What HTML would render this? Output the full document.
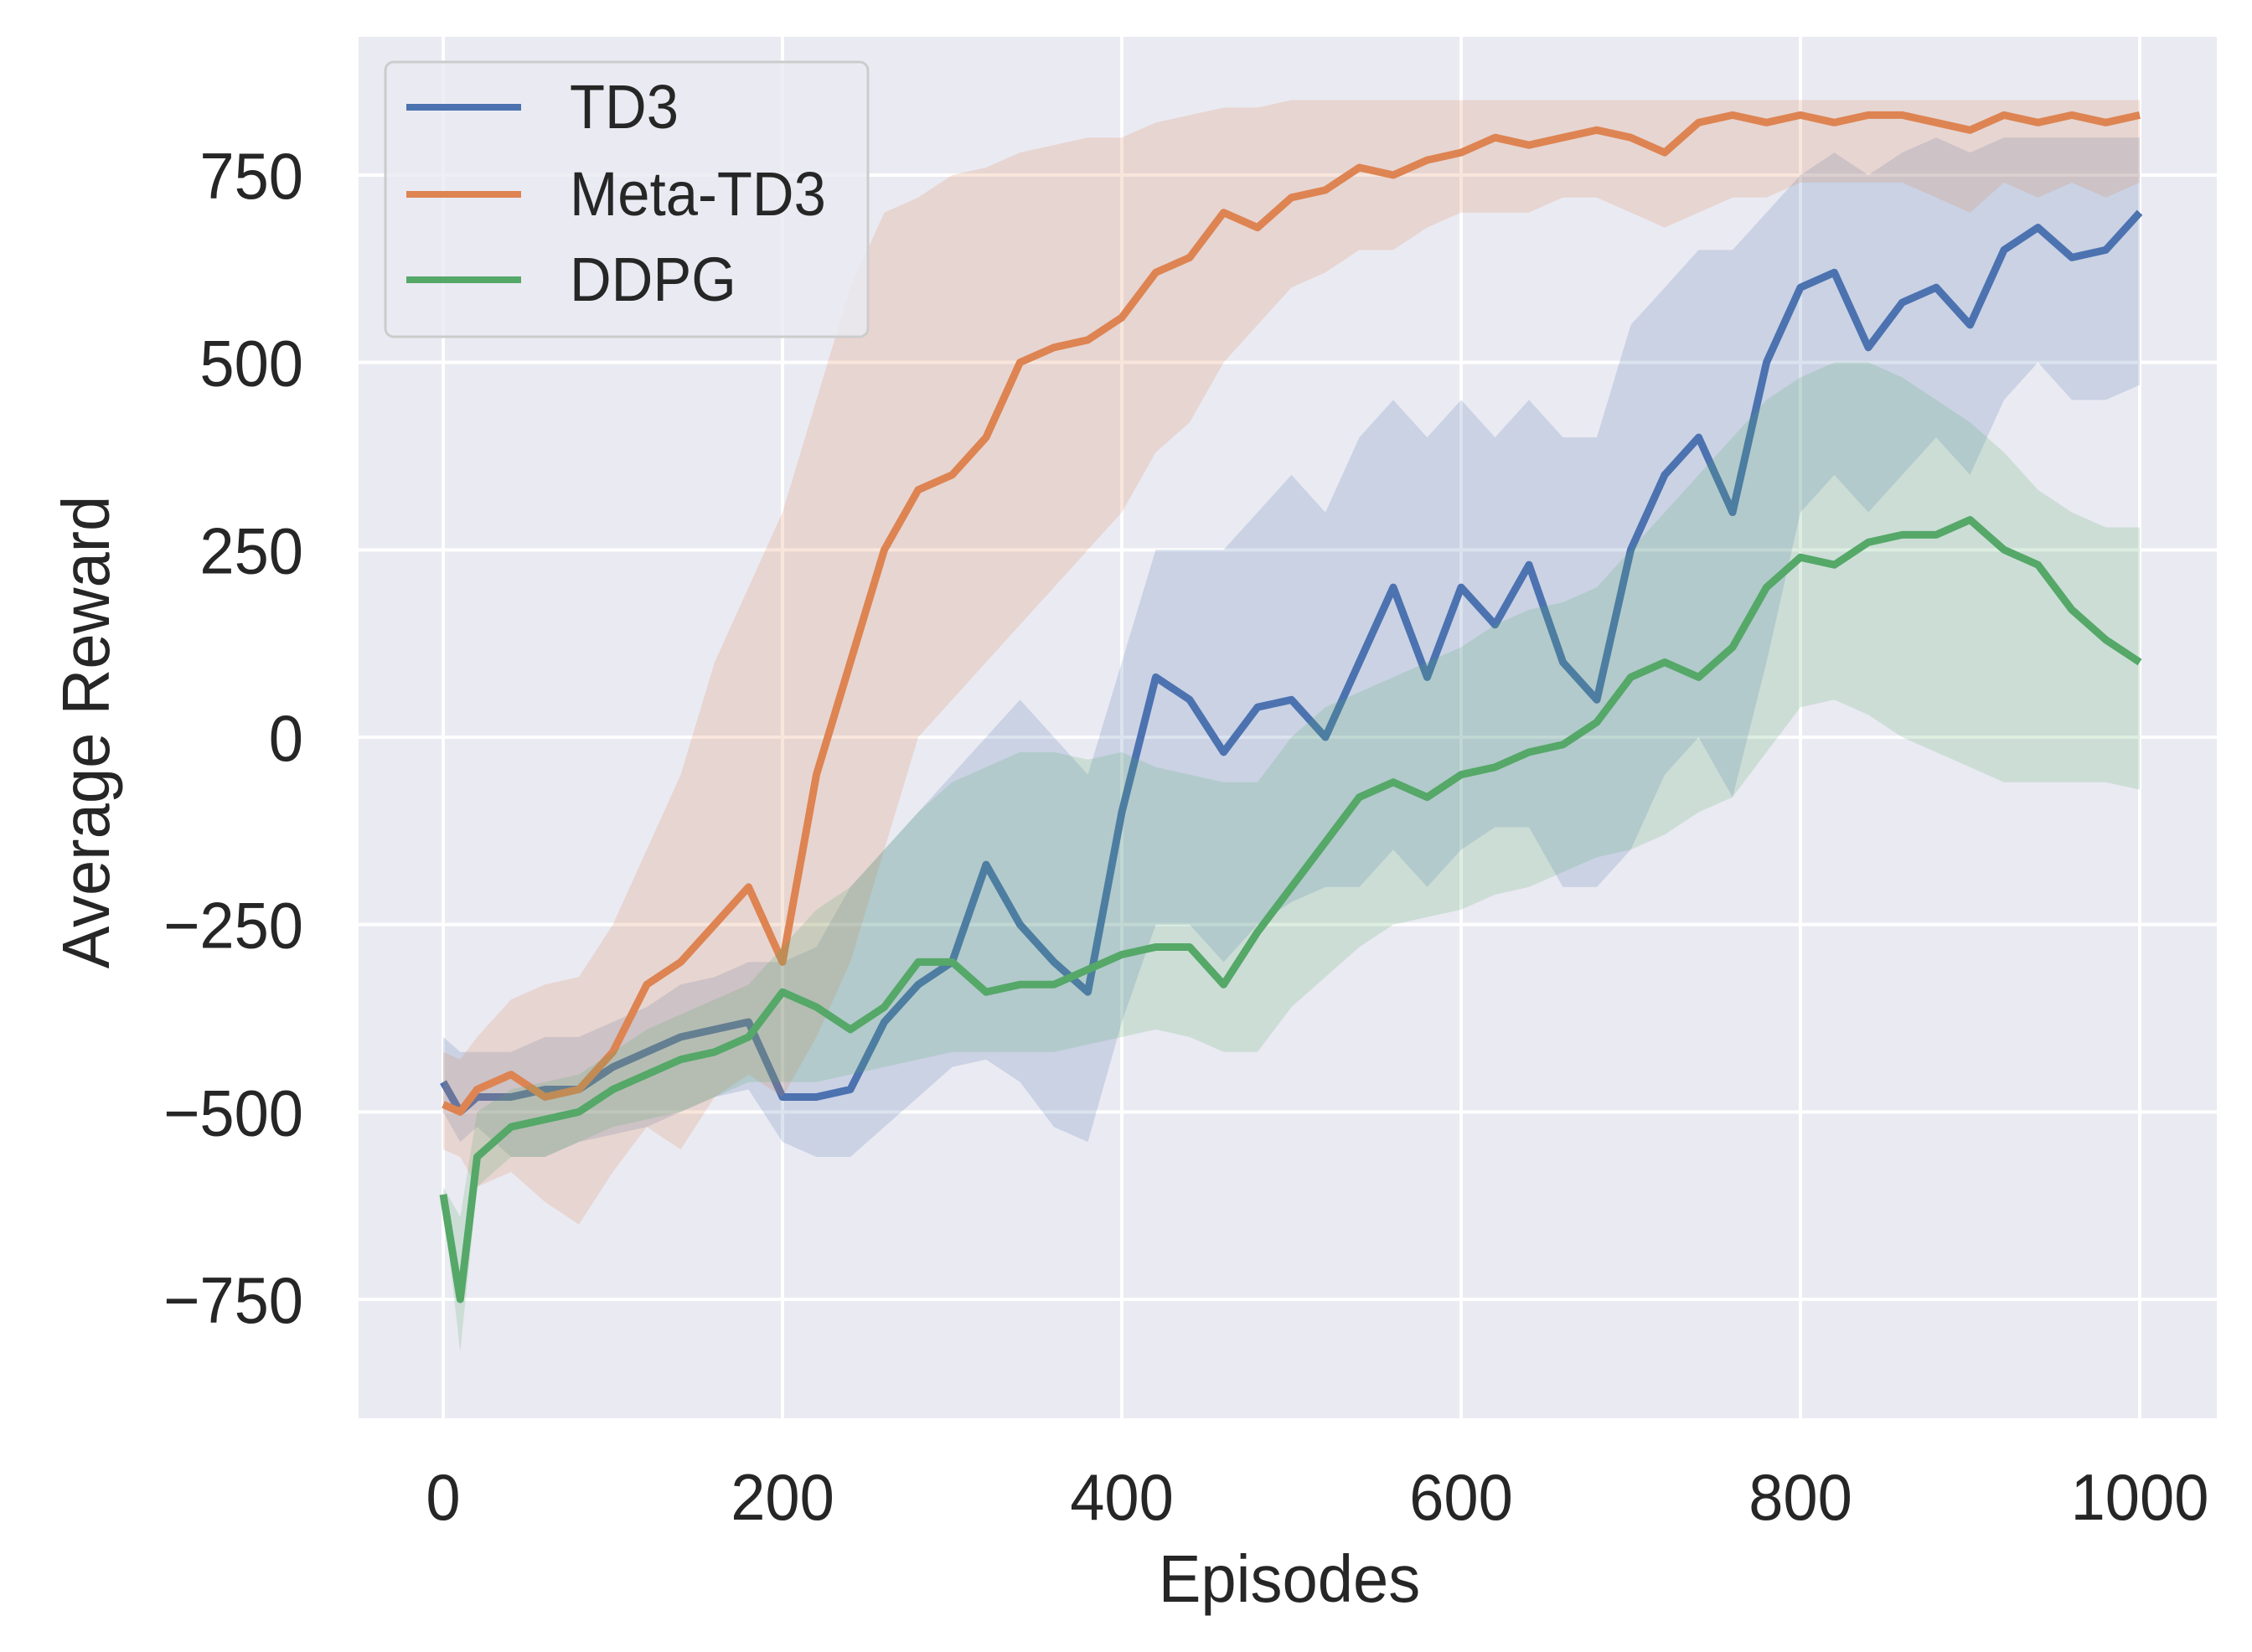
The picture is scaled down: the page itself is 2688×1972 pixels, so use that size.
<!DOCTYPE html>
<html><head><meta charset="utf-8"><style>
html,body{margin:0;padding:0;background:#fff;}
svg{display:block;}
text{font-family:"Liberation Sans","DejaVu Sans",sans-serif;fill:#262626;}
</style></head><body>
<svg id="chart" width="2688" height="1972" viewBox="0 0 2688 1972" xmlns="http://www.w3.org/2000/svg">
<rect x="0" y="0" width="2688" height="1972" fill="#ffffff"/>
<rect x="428" y="44" width="2218" height="1649" fill="#eaeaf2"/>
<g id="grid"></g>
<g id="series"></g>
<g id="ticks"></g>
<g>
<rect x="460" y="74" width="576" height="328" rx="10" fill="#eaeaf2" fill-opacity="0.8" stroke="#cccccc" stroke-width="3"/>
<line x1="485" y1="128" x2="622" y2="128" stroke="#4c72b0" stroke-width="8"/>
<text x="0" y="0" font-size="74" transform="translate(680,153) scale(0.93,1)">TD3</text>
<line x1="485" y1="232" x2="622" y2="232" stroke="#dd8452" stroke-width="8"/>
<text x="0" y="0" font-size="74" transform="translate(680,257) scale(0.93,1)">Meta-TD3</text>
<line x1="485" y1="334" x2="622" y2="334" stroke="#55a868" stroke-width="8"/>
<text x="0" y="0" font-size="74" transform="translate(680,359) scale(0.93,1)">DDPG</text>
</g>
<text x="0" y="0" font-size="80" text-anchor="middle" transform="translate(1539,1912) scale(0.95,1)">Episodes</text>
<text x="0" y="0" font-size="80" text-anchor="middle" transform="translate(130,874) rotate(-90) scale(0.95,1)">Average Reward</text>
</svg>
<script>
const episodes=[0,10,20,40,60,80,100,120,140,160,180,200,220,240,260,280,300,320,340,360,380,400,420,440,460,480,500,520,540,560,580,600,620,640,660,680,700,720,740,760,780,800,820,840,860,880,900,920,940,960,980,1000];
const td3Mean=[-460,-500,-480,-480,-470,-470,-440,-420,-400,-390,-380,-480,-480,-470,-380,-330,-300,-170,-250,-300,-340,-100,80,50,-20,40,50,0,100,200,80,200,150,230,100,50,250,350,400,300,500,600,620,520,580,600,550,650,680,640,650,700];
const td3High=[-400,-420,-420,-420,-400,-400,-380,-360,-330,-320,-300,-300,-280,-200,-150,-100,-50,0,50,0,-50,100,250,250,250,300,350,300,400,450,400,450,400,450,400,400,550,600,650,650,700,750,780,750,780,800,780,800,800,800,800,800];
const td3Low=[-500,-540,-520,-560,-560,-540,-530,-520,-500,-480,-470,-540,-560,-560,-520,-480,-440,-430,-460,-520,-540,-380,-250,-250,-300,-250,-220,-200,-200,-150,-200,-150,-120,-120,-200,-200,-150,-50,0,-80,100,300,350,300,350,400,350,450,500,450,450,470];
const metaMean=[-490,-500,-470,-450,-480,-470,-420,-330,-300,-250,-200,-300,-50,100,250,330,350,400,500,520,530,560,620,640,700,680,720,730,760,750,770,780,800,790,800,810,800,780,820,830,820,830,820,830,830,820,810,830,820,830,820,830];
const metaHigh=[-420,-430,-400,-350,-330,-320,-250,-150,-50,100,200,300,450,600,700,720,750,760,780,790,800,800,820,830,840,840,850,850,850,850,850,850,850,850,850,850,850,850,850,850,850,850,850,850,850,850,850,850,850,850,850,850];
const metaLow=[-550,-560,-600,-580,-620,-650,-580,-520,-550,-480,-450,-480,-400,-300,-150,0,50,100,150,200,250,300,380,420,500,550,600,620,650,650,680,700,700,700,720,720,700,680,700,720,720,740,740,740,740,720,700,740,720,740,720,740];
const ddpgMean=[-610,-750,-560,-520,-510,-500,-470,-450,-430,-420,-400,-340,-360,-390,-360,-300,-300,-340,-330,-330,-310,-290,-280,-280,-330,-260,-200,-140,-80,-60,-80,-50,-40,-20,-10,20,80,100,80,120,200,240,230,260,270,270,290,250,230,170,130,100];
const ddpgHigh=[-600,-640,-500,-470,-460,-450,-420,-390,-370,-350,-330,-280,-230,-200,-150,-100,-60,-40,-20,-20,-30,-20,-40,-50,-60,-60,0,40,60,80,100,120,150,170,180,200,250,300,350,400,450,480,500,500,480,450,420,380,330,300,280,280];
const ddpgLow=[-620,-820,-600,-560,-560,-540,-520,-510,-500,-480,-460,-460,-460,-450,-440,-430,-420,-420,-420,-420,-410,-400,-390,-400,-420,-420,-360,-320,-280,-250,-240,-230,-210,-200,-180,-160,-150,-130,-100,-80,-20,40,50,30,0,-20,-40,-60,-60,-60,-60,-70];
const xTicks=[0,200,400,600,800,1000];
const yTicks=[-750,-500,-250,0,250,500,750];
const yTickLabels=["\u2212750","\u2212500","\u2212250","0","250","500","750"];

const NS="http://www.w3.org/2000/svg";
function xs(v){return 529+v*2.025;}
function ys(v){return 880-v*0.8947;}
function mk(tag,attrs,parent){const e=document.createElementNS(NS,tag);for(const k in attrs)e.setAttribute(k,attrs[k]);parent.appendChild(e);return e;}
const grid=document.getElementById('grid'),ticks=document.getElementById('ticks'),ser=document.getElementById('series');
xTicks.forEach(function(t){
  const l=mk('line',{x1:xs(t),x2:xs(t),y1:44,y2:1693,stroke:'#ffffff','stroke-width':4},grid);
  
  
  const tx=mk('text',{x:0,y:0,'font-size':78,'text-anchor':'middle',transform:'translate('+xs(t)+',1814) scale(0.95,1)'},ticks);
  tx.textContent=String(t);
  
  
});
yTicks.forEach(function(t,i){
  const l=mk('line',{x1:428,x2:2646,y1:ys(t),y2:ys(t),stroke:'#ffffff','stroke-width':4},grid);
  
  
  const tx=mk('text',{x:0,y:0,'font-size':78,'text-anchor':'end',transform:'translate(362,'+(ys(t)+28)+') scale(0.95,1)'},ticks);
  tx.textContent=yTickLabels[i];
  
  
});
function draw(name,mean,lo,hi,color){
  let d='';
  for(let i=0;i<episodes.length;i++)d+=(i?'L':'M')+xs(episodes[i]).toFixed(1)+','+ys(hi[i]).toFixed(1);
  for(let i=episodes.length-1;i>=0;i--)d+='L'+xs(episodes[i]).toFixed(1)+','+ys(lo[i]).toFixed(1);
  const band=mk('path',{d:d+'Z',fill:color,'fill-opacity':0.2,stroke:'none'},ser);
  
  
  let p='';
  for(let i=0;i<episodes.length;i++)p+=(i?'L':'M')+xs(episodes[i]).toFixed(1)+','+ys(mean[i]).toFixed(1);
  const line=mk('path',{d:p,fill:'none',stroke:color,'stroke-width':9,'stroke-linejoin':'round'},ser);
  
  
}
draw('td3',td3Mean,td3Low,td3High,'#4c72b0');
draw('meta-td3',metaMean,metaLow,metaHigh,'#dd8452');
draw('ddpg',ddpgMean,ddpgLow,ddpgHigh,'#55a868');
</script>
</body></html>
